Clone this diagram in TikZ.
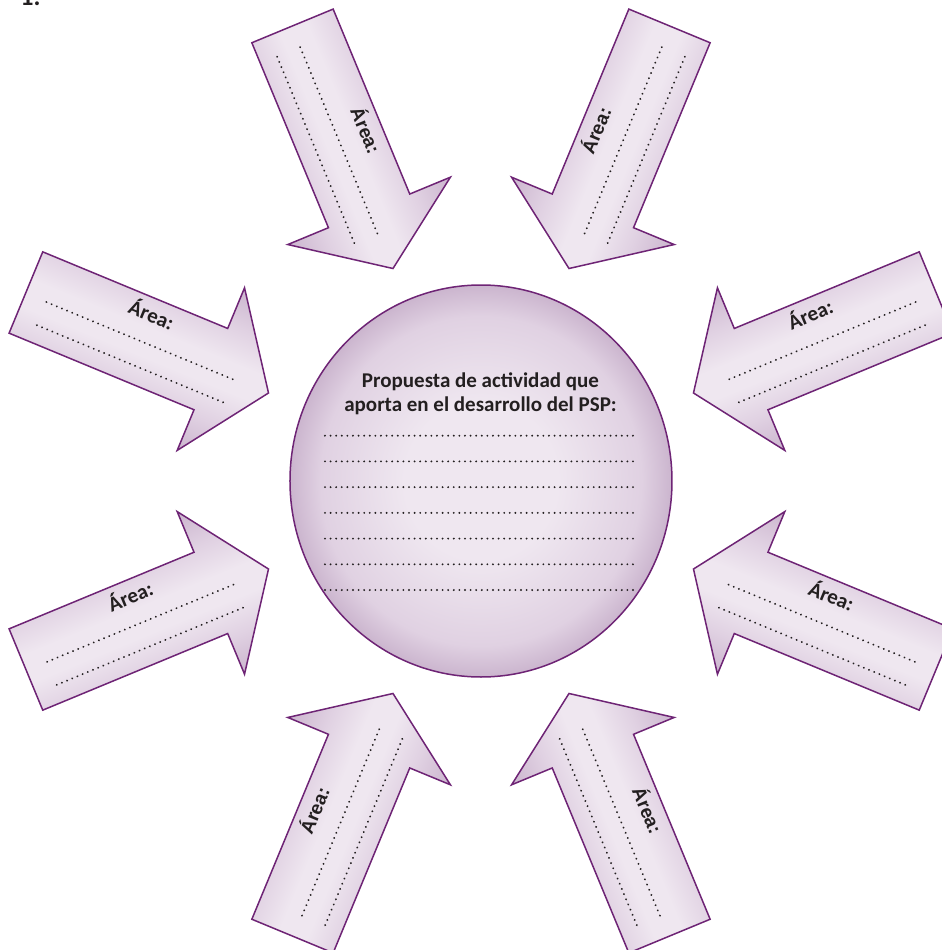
\documentclass[tikz,border=0pt]{standalone}
\usepackage{fontspec}
\setmainfont{Carlito}
\newfontfamily\arialfont{Liberation Sans}
\usetikzlibrary{shapes.geometric}
\definecolor{lavlight}{HTML}{EFE7F0}
\definecolor{lavmid}{HTML}{E0D1E2}
\definecolor{lavdark}{HTML}{CBB5CE}
\definecolor{rim}{HTML}{6E2475}
\definecolor{ink}{HTML}{231F20}
\pgfdeclareverticalshading{arrowshade}{100bp}{color(0bp)=(lavdark); color(25bp)=(lavdark); color(36bp)=(lavmid); color(46bp)=(lavlight); color(54bp)=(lavlight); color(64bp)=(lavmid); color(75bp)=(lavdark); color(100bp)=(lavdark)}
\pgfdeclareradialshading{ballshade}{\pgfpoint{0bp}{0bp}}{color(0bp)=(lavlight); color(10bp)=(lavlight); color(21bp)=(lavmid); color(25bp)=(lavdark); color(50bp)=(lavdark)}
\tikzset{
  arrowbody/.style={shade, shading=arrowshade, draw=rim, line width=0.75pt, line join=miter},
  ballbody/.style={ellipse, shade, shading=ballshade, draw=rim, line width=0.75pt, minimum width=191pt, minimum height=196pt, inner sep=0pt},
  dotline/.style={ink, line width=1.05pt, line cap=round, dash pattern=on 0pt off 2.8pt},
  areaV/.style={font=\arialfont\bfseries\fontsize{9.5}{11}\selectfont, text=ink, inner sep=0pt},
  areaH/.style={font=\bfseries\fontsize{10.5}{12}\selectfont, text=ink, inner sep=0pt},
  titletext/.style={font=\bfseries\fontsize{10.5}{12}\selectfont, text=ink, inner sep=0pt, anchor=base},
}
% #1 name, #2 angle, #3 side sign, #4 text rotation, #5 text style
\newcommand{\areaarrow}[5]{%
  \begin{scope}[transform canvas={rotate=#2}]
    \path[arrowbody] (230,0) -- (292.4,88) -- (292.4,44) -- (492.6,44)
      -- (492.6,-44) -- (292.4,-44) -- (292.4,-88) -- cycle;
    \draw[dotline] (470,{1*(#3)}) -- (263,{1*(#3)});
    \draw[dotline] (470,{26*(#3)}) -- (264,{26*(#3)});
  \end{scope}
  \begin{scope}[rotate=#2]
    \node[#5, rotate=#4] (#1) at (368,{-29*(#3)}) {Área:};
  \end{scope}}
\begin{document}
\begin{tikzpicture}[x=0.5pt, y=0.5pt]
\useasboundingbox (-481,-469) rectangle (461,481);
\node[font=\bfseries\fontsize{13}{15}\selectfont, text=ink, anchor=base west, inner sep=0pt] (hdr) at (-461,476) {1.};
% arrows
\areaarrow{a1}{112.5}{1}{-67.5}{areaV}
\areaarrow{a2}{67.5}{-1}{67.5}{areaV}
\areaarrow{a3}{157.5}{1}{-22.5}{areaH}
\areaarrow{a4}{22.5}{-1}{22.5}{areaH}
\areaarrow{a5}{202.5}{1}{22.5}{areaH}
\areaarrow{a6}{-22.5}{-1}{-22.5}{areaH}
\areaarrow{a7}{247.5}{1}{67.5}{areaV}
\areaarrow{a8}{-67.5}{-1}{-67.5}{areaV}
% central circle
\node[ballbody] (ball) at (0,0) {};
\node[titletext] (t1) at (-0.5,93.7) {Propuesta de actividad que};
\node[titletext] (t2) at (-0.5,69.3) {aporta en el desarrollo del PSP:};
\foreach \k in {0,...,6}{
  \draw[dotline] (-156,{45.3-25.72*\k}) -- (154,{45.3-25.72*\k});
}
\end{tikzpicture}
\end{document}
